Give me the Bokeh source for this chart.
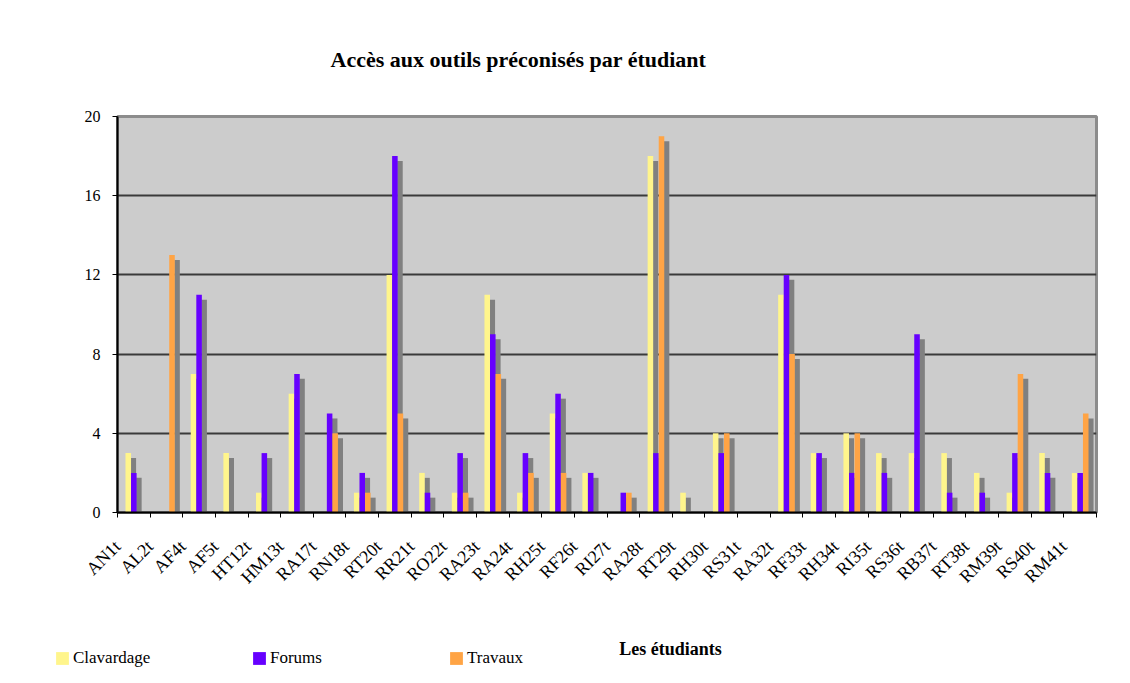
from bokeh.plotting import figure
from bokeh.layouts import column
from bokeh.models import (ColumnDataSource, FixedTicker, Label, Legend, LegendItem, Range1d)
from bokeh.embed import file_html
from bokeh.resources import INLINE
from math import pi

# ---- data ----
students = ["AN1t", "AL2t", "AF4t", "AF5t", "HT12t", "HM13t", "RA17t", "RN18t", "RT20t", "RR21t",
            "RO22t", "RA23t", "RA24t", "RH25t", "RF26t", "RI27t", "RA28t", "RT29t", "RH30t", "RS31t",
            "RA32t", "RF33t", "RH34t", "RI35t", "RS36t", "RB37t", "RT38t", "RM39t", "RS40t", "RM41t"]
clavardage = [3, 0, 7, 3, 1, 6, 0, 1, 12, 2, 1, 11, 1, 5, 2, 0, 18, 1, 4, 0, 11, 3, 4, 3, 3, 3, 2, 1, 3, 2]
forums =     [2, 0, 11, 0, 3, 7, 5, 2, 18, 1, 3, 9, 3, 6, 2, 1, 3, 0, 3, 0, 12, 3, 2, 2, 9, 1, 1, 3, 2, 2]
travaux =    [0, 13, 0, 0, 0, 0, 4, 1, 5, 0, 1, 7, 2, 2, 0, 1, 19, 0, 4, 0, 8, 0, 4, 0, 0, 0, 0, 7, 0, 5]
series_names = ["Clavardage", "Forums", "Travaux"]
y_ticks = [0, 4, 8, 12, 16, 20]

# ---- style ----
colors = ["#FFF58C", "#6600FF", "#FFA445"]
shadow_color = "#808080"
bar_w = 0.17
offsets = [0.33, 0.50, 0.67]
shadow_dx = 0.155
shadow_dy = 0.25
serif = "Liberation Serif"

W = 1114
H_MAIN, H_FOOT = 630, 53

p = figure(width=W, height=H_MAIN, output_backend="svg", toolbar_location=None,
           x_range=Range1d(0, len(students)), y_range=Range1d(0, 20),
           min_border_left=117, min_border_right=18, min_border_top=115, min_border_bottom=118,
           background_fill_color="#CCCCCC", border_fill_color="white")
p.outline_line_color = "#8C8C8C"
p.outline_line_width = 3

p.title.text = "Accès aux outils préconisés par étudiant"
p.title.align = "left"
p.title.offset = 213
p.title.standoff = 89
p.title.text_font = serif
p.title.text_font_style = "bold"
p.title.text_font_size = "22px"
p.title.text_color = "black"

all_series = [clavardage, forums, travaux]
idx = list(range(len(students)))

# shadows first
for k, vals in enumerate(all_series):
    xs = [i + offsets[k] + shadow_dx for i, v in zip(idx, vals) if v > 0]
    tops = [v - shadow_dy for v in vals if v > 0]
    src = ColumnDataSource(dict(x=xs, top=tops))
    p.vbar(x="x", top="top", bottom=0, width=bar_w, source=src,
           fill_color=shadow_color, line_color=None)

for k, vals in enumerate(all_series):
    src = ColumnDataSource(dict(x=[i + offsets[k] for i in idx], top=vals))
    p.vbar(x="x", top="top", bottom=0, width=bar_w, source=src,
           fill_color=colors[k], line_color=None)

# grid
p.xgrid.visible = False
p.ygrid.ticker = FixedTicker(ticks=y_ticks)
p.ygrid.grid_line_color = "#3A3A3A"
p.ygrid.grid_line_width = 2

# y axis
p.yaxis.ticker = FixedTicker(ticks=y_ticks)
p.yaxis.axis_line_color = "black"
p.yaxis.axis_line_width = 2
p.yaxis.major_tick_in = 0
p.yaxis.major_tick_out = 5
p.yaxis.minor_tick_line_color = None
p.yaxis.major_label_text_font = serif
p.yaxis.major_label_text_font_size = "16px"
p.yaxis.major_label_text_color = "black"
p.yaxis.major_label_standoff = 12

# x axis: ticks on category boundaries, labels rotated
p.xaxis.ticker = FixedTicker(ticks=list(range(len(students) + 1)))
overrides = {i: s for i, s in enumerate(students)}
overrides[len(students)] = ""
p.xaxis.major_label_overrides = overrides
p.xaxis.major_label_orientation = pi / 4
p.xaxis.axis_line_color = "black"
p.xaxis.axis_line_width = 2
p.xaxis.major_tick_in = 0
p.xaxis.major_tick_out = 5
p.xaxis.minor_tick_line_color = None
p.xaxis.major_label_text_font = serif
p.xaxis.major_label_text_font_size = "18px"
p.xaxis.major_label_text_color = "black"
p.xaxis.major_label_standoff = 26

# ---- footer: legend + axis title ----
f = figure(width=W, height=H_FOOT, output_backend="svg", toolbar_location=None,
           x_range=Range1d(0, W), y_range=Range1d(0, H_FOOT),
           x_axis_type=None, y_axis_type=None,
           min_border=0, min_border_left=0, min_border_right=0, min_border_top=0, min_border_bottom=0)
f.grid.visible = False
f.outline_line_color = None
f.background_fill_color = "white"
for plot in (p, f):
    if "frame_align" in plot.properties():
        plot.frame_align = False

# zero-height swatches, only used to give the legend its colours
legend_renderers = [f.vbar(x=[0], top=[0], bottom=[0], width=1, fill_color=colors[k], line_color=None)
                    for k in range(3)]
legend = Legend(items=[LegendItem(label=series_names[k], renderers=[legend_renderers[k]]) for k in range(3)],
                orientation="horizontal", location=(54, 15),
                glyph_width=16, glyph_height=16, label_standoff=3, label_width=178,
                spacing=0, padding=0, margin=0,
                label_text_font=serif, label_text_font_size="17px", label_text_color="black",
                background_fill_alpha=0, border_line_alpha=0)
f.add_layout(legend, "center")

f.add_layout(Label(x=670, y=35, x_units="screen", y_units="screen",
                   text="Les étudiants",
                   text_font=serif, text_font_style="bold", text_font_size="18px",
                   text_align="center", text_baseline="middle", text_color="black"))

layout = column(p, f, spacing=0)
open("out.html", "w").write(file_html(layout, INLINE))
